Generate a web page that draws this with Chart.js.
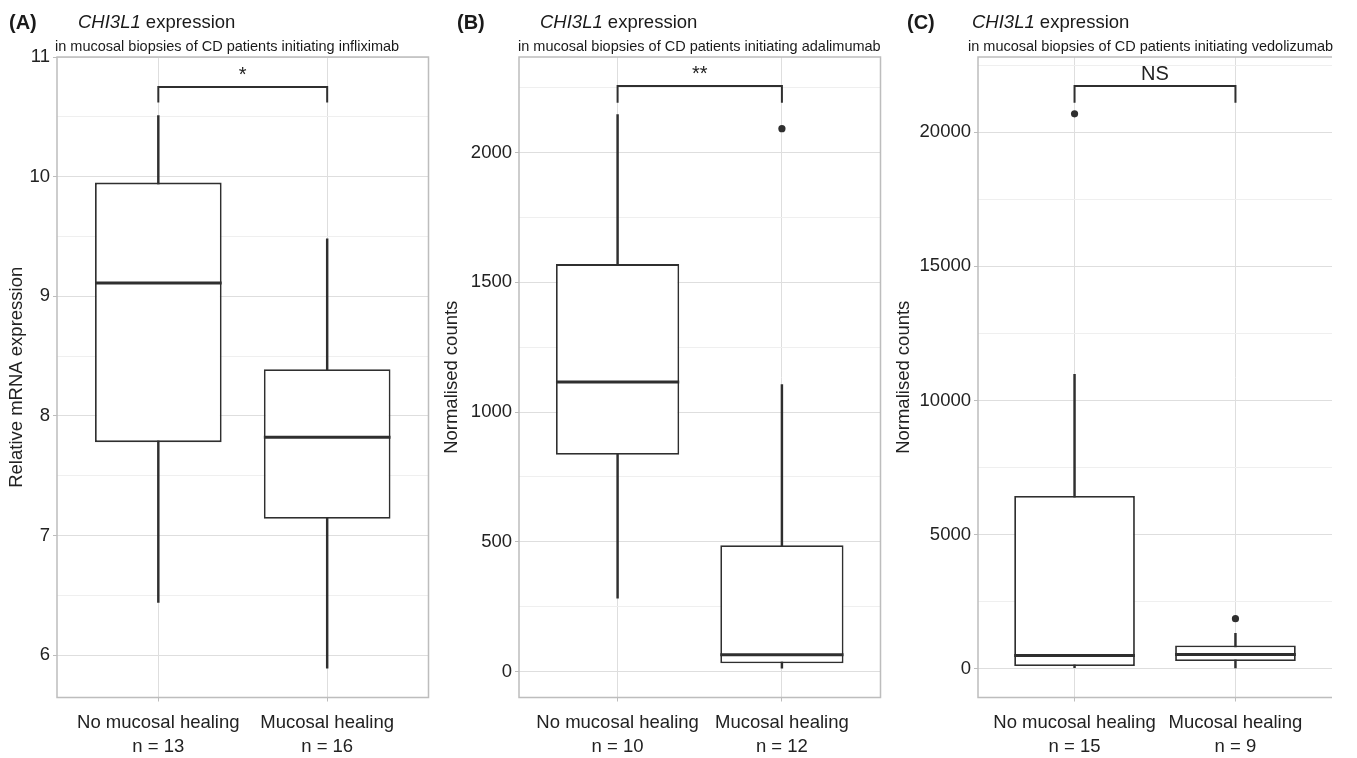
<!DOCTYPE html>
<html>
<head>
<meta charset="utf-8">
<script src="https://cdn.jsdelivr.net/npm/chart.js@4.4.1/dist/chart.umd.min.js"></script>
<style>
  body { margin: 0; background: #fff; width: 1357px; height: 758px; overflow: hidden; position: relative;
         font-family: "Liberation Sans", Arial, sans-serif; color: #1a1a1a; }
  canvas { position: absolute; top: 0; }
  .tag, .title, .sub { position: absolute; white-space: nowrap; }
  .tag { font-weight: bold; font-size: 20px; line-height: 20px; top: 12px; }
  .title { font-size: 18.5px; line-height: 18.5px; top: 13px; }
  .sub { font-size: 14.5px; line-height: 14.5px; top: 39px; }
</style>
</head>
<body>
<canvas id="chartA" width="435" height="758" style="left:0"></canvas>
<canvas id="chartB" width="452" height="758" style="left:435px"></canvas>
<canvas id="chartC" width="470" height="758" style="left:887px"></canvas>

<div class="tag" style="left:9px">(A)</div>
<div class="title" style="left:78px"><i>CHI3L1</i> expression</div>
<div class="sub" style="left:55px">in mucosal biopsies of CD patients initiating infliximab</div>

<div class="tag" style="left:457px">(B)</div>
<div class="title" style="left:540px"><i>CHI3L1</i> expression</div>
<div class="sub" style="left:518px">in mucosal biopsies of CD patients initiating adalimumab</div>

<div class="tag" style="left:907px">(C)</div>
<div class="title" style="left:972px"><i>CHI3L1</i> expression</div>
<div class="sub" style="left:968px">in mucosal biopsies of CD patients initiating vedolizumab</div>

<script>
const groups = ["No mucosal healing", "Mucosal healing"];

// (A) infliximab - relative mRNA expression
const nA = [13, 16];
const lowA = [6.44, 5.89];
const q1A = [7.78, 7.14];
const medA = [9.11, 7.82];
const q3A = [9.95, 8.39];
const highA = [10.51, 9.48];
const outA = [[], []];
const ticksA = [6, 7, 8, 9, 10, 11];
const minorA = [6.5, 7.5, 8.5, 9.5, 10.5];
const bracketA = [10.62, 10.75];
const sigA = "*";

// (B) adalimumab - normalised counts
const nB = [10, 12];
const lowB = [283, 13];
const q1B = [835, 32];
const medB = [1116, 65];
const q3B = [1570, 487];
const highB = [2146, 1106];
const outB = [[], [2092]];
const ticksB = [0, 500, 1000, 1500, 2000];
const minorB = [250, 750, 1250, 1750, 2250];
const bracketB = [2192, 2256];
const sigB = "**";

// (C) vedolizumab - normalised counts
const nC = [15, 9];
const lowC = [40, 37];
const q1C = [100, 286];
const medC = [498, 535];
const q3C = [6444, 872];
const highC = [10971, 1320];
const outC = [[20684], [1868]];
const ticksC = [0, 5000, 10000, 15000, 20000];
const minorC = [2500, 7500, 12500, 17500, 22500];
const bracketC = [21095, 21716];
const sigC = "NS";

const ink = "#2f2f2f";
const textColor = "#222";
const majorGrid = "#dedede";
const minorGrid = "#efefef";
const frame = "#bdbdbd";
const font = { family: '"Liberation Sans", Arial, sans-serif', size: 18.5 };

// medians, significance bracket and panel frame
const boxExtras = {
  id: "boxExtras",
  afterDatasetsDraw(chart, args, opts) {
    const { ctx, chartArea: a, scales: { x, y } } = chart;
    ctx.save();
    ctx.strokeStyle = ink;
    ctx.lineWidth = 3;
    chart.getDatasetMeta(0).data.forEach((bar, i) => {
      const py = y.getPixelForValue(opts.medians[i]);
      ctx.beginPath();
      ctx.moveTo(bar.x - bar.width / 2, py);
      ctx.lineTo(bar.x + bar.width / 2, py);
      ctx.stroke();
    });

    const x0 = x.getPixelForValue(0), x1 = x.getPixelForValue(1);
    const yEnd = y.getPixelForValue(opts.bracket[0]);
    const yTop = y.getPixelForValue(opts.bracket[1]);
    ctx.lineWidth = 2;
    ctx.beginPath();
    ctx.moveTo(x0, yEnd); ctx.lineTo(x0, yTop); ctx.lineTo(x1, yTop); ctx.lineTo(x1, yEnd);
    ctx.stroke();
    ctx.fillStyle = textColor;
    ctx.font = '20px "Liberation Sans", Arial, sans-serif';
    ctx.textAlign = "center";
    ctx.textBaseline = "alphabetic";
    ctx.fillText(opts.label, (x0 + x1) / 2, yTop - 6);

    ctx.strokeStyle = frame;
    ctx.lineWidth = 1.5;
    ctx.beginPath();
    if (opts.openRight) {
      ctx.moveTo(a.right, a.top); ctx.lineTo(a.left, a.top);
      ctx.lineTo(a.left, a.bottom); ctx.lineTo(a.right, a.bottom);
    } else {
      ctx.rect(a.left, a.top, a.right - a.left, a.bottom - a.top);
    }
    ctx.stroke();
    ctx.restore();
  }
};

function makePanel(id, p) {
  const boxes = groups.map((g, i) => ({ x: i, y: [p.q1[i], p.q3[i]] }));
  const whiskers = groups.map((g, i) => ({ x: i, y: [p.low[i], p.high[i]] }));
  const outliers = [];
  p.out.forEach((vals, i) => vals.forEach(v => outliers.push({ x: i, y: v })));

  new Chart(document.getElementById(id), {
    type: "bar",
    data: {
      datasets: [
        {
          data: boxes, order: 1, grouped: false,
          backgroundColor: "#fff", borderColor: ink, borderWidth: 1.8, borderSkipped: false,
          barPercentage: 0.75, categoryPercentage: 1
        },
        {
          data: whiskers, order: 2, grouped: false,
          backgroundColor: ink, borderWidth: 0, maxBarThickness: 1.8,
          barPercentage: 1, categoryPercentage: 1
        },
        {
          type: "line", data: outliers, order: 0, showLine: false,
          pointRadius: 3.6, pointBackgroundColor: ink, pointBorderWidth: 0
        }
      ]
    },
    options: {
      responsive: false,
      animation: false,
      devicePixelRatio: 1,
      layout: { padding: { top: 57, right: p.padRight, left: 0, bottom: 0 } },
      plugins: {
        legend: { display: false },
        tooltip: { enabled: false },
        boxExtras: { medians: p.med, bracket: p.bracket, label: p.sig, openRight: p.openRight }
      },
      scales: {
        x: {
          type: "linear", min: -0.6, max: 1.6, offset: false,
          afterBuildTicks: s => { s.ticks = groups.map((g, i) => ({ value: i })); },
          afterFit: s => { s.height = 60.5; },
          ticks: {
            callback: v => [groups[v], "n = " + p.n[v]],
            font: { ...font, lineHeight: 1.27 }, color: textColor,
            padding: 10, maxRotation: 0, autoSkip: false
          },
          grid: { offset: false, color: majorGrid, tickColor: frame, tickLength: 4 },
          border: { display: false }
        },
        y: {
          min: p.yMin, max: p.yMax,
          afterBuildTicks: s => {
            s.ticks = p.ticks.concat(p.minor).sort((a, b) => a - b).map(v => ({ value: v }));
          },
          afterFit: s => { s.width = p.axisWidth; },
          ticks: {
            callback: v => p.ticks.includes(v) ? String(v) : "",
            font, color: textColor, padding: 3, autoSkip: false
          },
          grid: {
            color: c => p.minor.includes(c.tick && c.tick.value) ? minorGrid : majorGrid,
            tickColor: c => p.minor.includes(c.tick && c.tick.value) ? "rgba(0,0,0,0)" : frame,
            tickLength: 4
          },
          border: { display: false },
          title: { display: true, text: p.yTitle, font, color: textColor, padding: { top: 6, bottom: 0 } }
        }
      }
    },
    plugins: [boxExtras]
  });
}

makePanel("chartA", {
  n: nA, low: lowA, q1: q1A, med: medA, q3: q3A, high: highA, out: outA,
  ticks: ticksA, minor: minorA, bracket: bracketA, sig: sigA,
  yMin: 5.645, yMax: 11.0, yTitle: "Relative mRNA expression",
  axisWidth: 57, padRight: 6.5, openRight: false
});

makePanel("chartB", {
  n: nB, low: lowB, q1: q1B, med: medB, q3: q3B, high: highB, out: outB,
  ticks: ticksB, minor: minorB, bracket: bracketB, sig: sigB,
  yMin: -100, yMax: 2368, yTitle: "Normalised counts",
  axisWidth: 84, padRight: 6.5, openRight: false
});

makePanel("chartC", {
  n: nC, low: lowC, q1: q1C, med: medC, q3: q3C, high: highC, out: outC,
  ticks: ticksC, minor: minorC, bracket: bracketC, sig: sigC,
  yMin: -1070, yMax: 22800, yTitle: "Normalised counts",
  axisWidth: 91, padRight: 25, openRight: true
});
</script>
</body>
</html>
